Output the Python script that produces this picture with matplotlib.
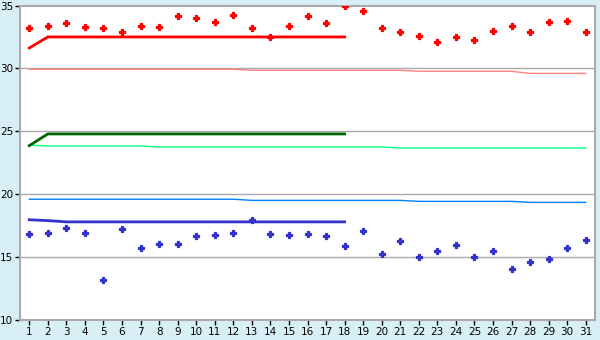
import matplotlib
matplotlib.use("Agg")
import matplotlib.pyplot as plt

days = list(range(1, 32))

red_points = [33.19, 33.35, 33.58, 33.27, 33.19, 32.87, 33.35, 33.27, 34.14, 33.98,
              33.66, 34.22, 33.19, 32.47, 33.35, 34.14, 33.58, 34.94, 34.54, 33.19,
              32.87, 32.55, 32.07, 32.47, 32.23, 32.95, 33.35, 32.87, 33.66, 33.74, 32.87]
blue_points = [16.81, 16.89, 17.29, 16.89, 13.16, 17.21, 15.70, 16.02, 16.02, 16.65,
               16.73, 16.89, 17.95, 16.81, 16.73, 16.81, 16.65, 15.86, 17.05, 15.22,
               16.25, 14.98, 15.46, 15.94, 14.98, 15.46, 14.03, 14.59, 14.83, 15.70, 16.33]

line_days = list(range(1, 19))
red_line = [31.62] + [32.5] * 17
green_line = [23.86] + [24.79] * 17
darkblue_line = [17.97, 17.9] + [17.8] * 16

pink_ref = [29.93] * 12 + [29.85] * 9 + [29.77] * 6 + [29.6] * 4
spring_ref = [23.9] + [23.83] * 6 + [23.75] * 13 + [23.67] * 11
azure_ref = [19.6] * 12 + [19.51] * 9 + [19.43] * 6 + [19.35] * 4

yticks = [10, 15, 20, 25, 30, 35]

bg = "#D9EFF6"
gridc = "#AAAAAA"

fig = plt.figure(figsize=(6, 3.4), dpi=100, facecolor=bg)
ax = fig.add_axes([20 / 600, 1 - 320 / 340, 575 / 600, 314.5 / 340])
ax.set_facecolor("white")

for y in yticks[1:-1]:
    ax.axhline(y, color=gridc, lw=1.0, zorder=1)

ax.plot(days, pink_ref, color="#FF8080", lw=1.0, zorder=2)
ax.plot(days, spring_ref, color="#00FF80", lw=1.0, zorder=2)
ax.plot(days, azure_ref, color="#0080FF", lw=1.0, zorder=2)

ax.plot(line_days, red_line, color="#FF0000", lw=2.0, zorder=3)
ax.plot(line_days, green_line, color="#006600", lw=2.0, zorder=3)
ax.plot(line_days, darkblue_line, color="#3333CC", lw=2.0, zorder=3)

ax.plot(days, red_points, ls="none", marker="P", ms=4.2, color="#FF0000",
        mec="#FF0000", mew=0.9, zorder=4)
ax.plot(days, blue_points, ls="none", marker="P", ms=4.2, color="#3333CC",
        mec="#3333CC", mew=0.9, zorder=4)

ax.set_xlim(0.5, 31.5)
ax.set_ylim(10, 35)
ax.set_xticks(days)
ax.set_xticklabels([str(d) for d in days])
ax.set_yticks(yticks)
ax.set_yticklabels([str(y) for y in yticks])

for s in ax.spines.values():
    s.set_color(gridc)
    s.set_linewidth(1.5)

ax.tick_params(axis="both", direction="out", length=3.5, width=1, color="#000000",
               labelsize=7.5, labelcolor="black", pad=1.5)

fig.savefig("out.png", dpi=100, facecolor=bg)
